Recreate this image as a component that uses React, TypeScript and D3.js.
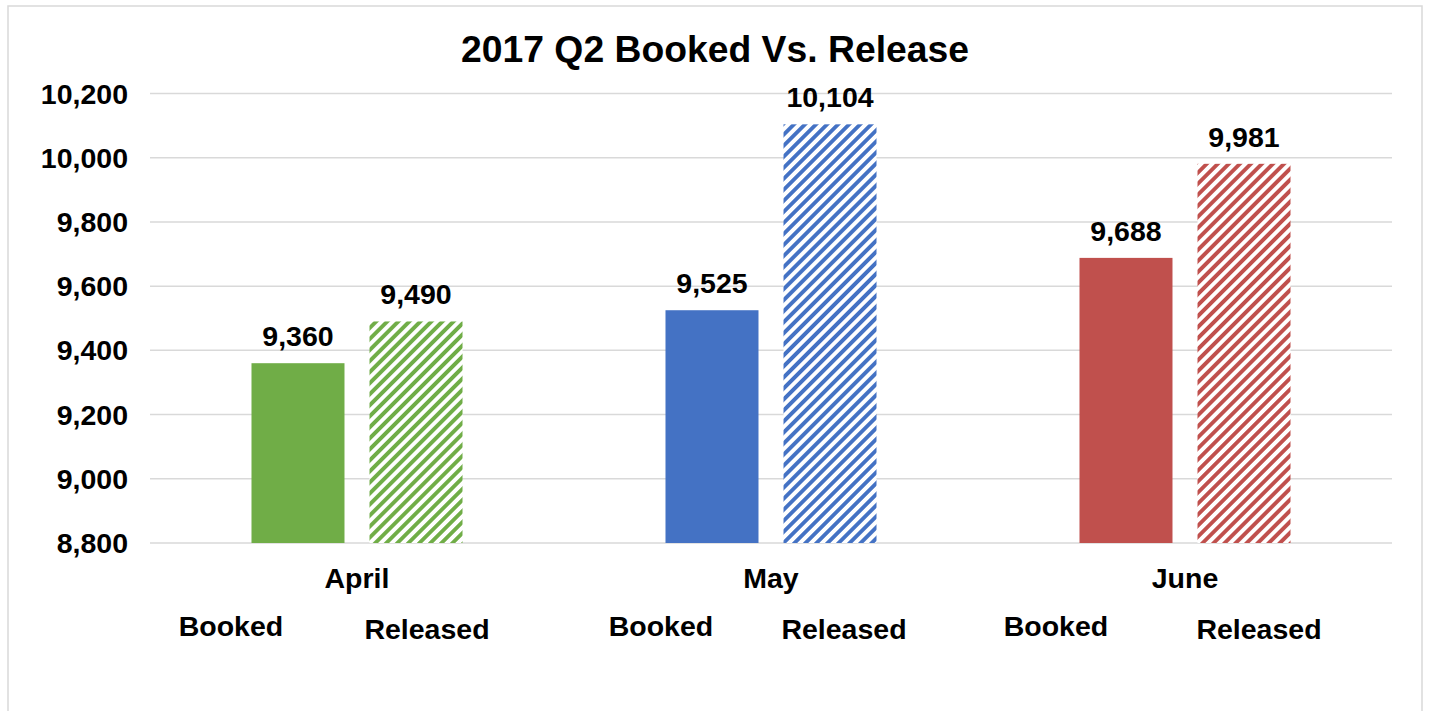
import React from "react";
import * as d3 from "d3";

const months = ["April", "May", "June"];
const series = ["Booked", "Released"];
const booked = [9360, 9525, 9688];
const released = [9490, 10104, 9981];
const yTicks = [8800, 9000, 9200, 9400, 9600, 9800, 10000, 10200];
const title = "2017 Q2 Booked Vs. Release";
const colors = ["#70AD47", "#4472C4", "#C0504D"];

// manual placement of the series text boxes under each month (offset from bar centre)
const bookedLabelOffset = [-67, -51, -70];
const releasedLabelOffset = [11, 14, 15];

const W = 1429;
const H = 711;
const FONT = "'Liberation Sans', Arial, sans-serif";

export default function App() {
  const left = 150;
  const right = 1392;
  const x = d3.scaleBand<string>().domain(months).range([left, right]).paddingInner(0).paddingOuter(0);
  const xs = d3
    .scaleBand<string>()
    .domain(series)
    .range([0, x.bandwidth()])
    .paddingInner(0.212)
    .paddingOuter(0.86);
  const y = d3.scaleLinear().domain([8800, 10200]).range([543, 93.5]);
  const fmt = d3.format(",");

  return (
    <svg
      width={W}
      height={H}
      style={{ position: "absolute", left: 0, top: 0, background: "#fff" }}
      fontFamily={FONT}
    >
      <defs>
        {colors.map((c, i) => (
          <pattern
            key={i}
            id={`hatch${i}`}
            patternUnits="userSpaceOnUse"
            width={7.8}
            height={7.8}
            patternTransform="rotate(45)"
          >
            <rect x={0} y={0} width={7.8} height={7.8} fill="#fff" />
            <rect x={0} y={0} width={3.9} height={7.8} fill={c} />
          </pattern>
        ))}
      </defs>
      <rect x={8} y={6} width={1414} height={720} fill="#fff" stroke="#d9d9d9" strokeWidth={1.5} />
      <text x={715} y={62} textAnchor="middle" fontSize={37.3} fontWeight="bold" fill="#000">
        {title}
      </text>
      {yTicks.map((t) => (
        <g key={t}>
          <line x1={left} x2={right} y1={y(t)} y2={y(t)} stroke="#d9d9d9" strokeWidth={1.5} />
          <text x={128} y={y(t) + 10} textAnchor="end" fontSize={28.5} fontWeight="bold" fill="#000">
            {fmt(t)}
          </text>
        </g>
      ))}
      {months.map((m, i) => {
        const x0 = x(m)!;
        const bx = x0 + xs("Booked")!;
        const rx = x0 + xs("Released")!;
        const bw = xs.bandwidth();
        return (
          <g key={m}>
            <rect x={bx} y={y(booked[i])} width={bw} height={y(8800) - y(booked[i])} fill={colors[i]} />
            <rect x={rx} y={y(released[i])} width={bw} height={y(8800) - y(released[i])} fill={`url(#hatch${i})`} />
            <text x={bx + bw / 2} y={y(booked[i]) - 17} textAnchor="middle" fontSize={28.5} fontWeight="bold">
              {fmt(booked[i])}
            </text>
            <text x={rx + bw / 2} y={y(released[i]) - 17} textAnchor="middle" fontSize={28.5} fontWeight="bold">
              {fmt(released[i])}
            </text>
            <text x={x0 + x.bandwidth() / 2} y={588} textAnchor="middle" fontSize={28.5} fontWeight="bold">
              {m}
            </text>
            <text x={bx + bw / 2 + bookedLabelOffset[i]} y={636} textAnchor="middle" fontSize={28.5} fontWeight="bold">
              {series[0]}
            </text>
            <text x={rx + bw / 2 + releasedLabelOffset[i]} y={639} textAnchor="middle" fontSize={28.5} fontWeight="bold">
              {series[1]}
            </text>
          </g>
        );
      })}
    </svg>
  );
}
